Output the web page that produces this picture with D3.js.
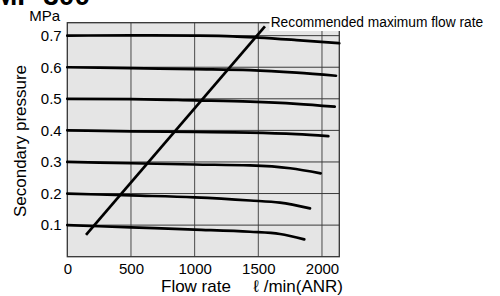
<!DOCTYPE html>
<html><head><meta charset="utf-8">
<script src="https://cdn.jsdelivr.net/npm/d3@7/dist/d3.min.js"></script>
<style>
html,body{margin:0;padding:0;background:#fff;}
svg{display:block;font-family:"Liberation Sans",Arial,Helvetica,sans-serif;}
</style></head>
<body>
<svg id="chart" width="500" height="296"></svg>
<script>
// ---- data ----
const title = "MP 300";
const yUnit = "MPa";
const xTitle = "Flow rate";
const xUnit = "ℓ /min(ANR)";
const yTitle = "Secondary pressure";
const recLabel = "Recommended maximum flow rate";
const xTicks = [0, 500, 1000, 1500, 2000];
const yTicks = [0.1, 0.2, 0.3, 0.4, 0.5, 0.6, 0.7];

const curve07 = [[0,0.700],[500,0.701],[1000,0.700],[1300,0.698],[1500,0.694],[1800,0.686],[2136,0.676]];
const curve06 = [[0,0.600],[500,0.597],[1000,0.594],[1435,0.591],[1800,0.583],[2110,0.573]];
const curve05 = [[0,0.500],[500,0.499],[1000,0.495],[1435,0.491],[1800,0.484],[2100,0.475]];
const curve04 = [[0,0.400],[500,0.397],[1000,0.395],[1435,0.393],[1800,0.388],[2050,0.382]];
const curve03 = [[0,0.300],[500,0.296],[1000,0.292],[1435,0.289],[1750,0.280],[1990,0.264]];
const curve02 = [[0,0.200],[500,0.194],[1000,0.188],[1435,0.178],[1670,0.171],[1906,0.153]];
const curve01 = [[0,0.100],[500,0.093],[1000,0.086],[1435,0.079],[1670,0.072],[1861,0.055]];
const recommended = [[147,0.069],[1552,0.729]];

// ---- layout ----
const L = 67.3, T = 22.7, R = 339.3, B = 256.7;
const svg = d3.select("#chart");
const x = d3.scaleLinear().domain([0, 2136]).range([L, R]);
const y = d3.scaleLinear().domain([0, 0.741]).range([B, T]);

// title (cut at top)
svg.append("text").attr("x", -6).attr("y", 5).attr("font-size", 28).attr("font-weight", "bold")
  .attr("fill", "#000").text(title);

// plot background
svg.append("rect").attr("x", L).attr("y", T).attr("width", R - L).attr("height", B - T)
  .attr("fill", "#e5e5e5");

// gridlines
svg.append("g").selectAll("line").data(xTicks.filter(d => d > 0)).join("line")
  .attr("x1", d => x(d)).attr("x2", d => x(d)).attr("y1", T).attr("y2", B)
  .attr("stroke", "#4a4a4a").attr("stroke-width", 1);
svg.append("g").selectAll("line").data(yTicks).join("line")
  .attr("x1", L).attr("x2", R).attr("y1", d => y(d)).attr("y2", d => y(d))
  .attr("stroke", "#3a3a3a").attr("stroke-width", 1);

// border
svg.append("rect").attr("x", L).attr("y", T).attr("width", R - L).attr("height", B - T)
  .attr("fill", "none").attr("stroke", "#333").attr("stroke-width", 1.3);

// curves
const line = d3.line().x(d => x(d[0])).y(d => y(d[1])).curve(d3.curveMonotoneX);
[curve07, curve06, curve05, curve04, curve03, curve02, curve01].forEach(c => {
  svg.append("path").datum(c).attr("d", line).attr("fill", "none")
    .attr("stroke", "#000").attr("stroke-width", 2.7).attr("stroke-linecap", "round");
});

// recommended max flow line
svg.append("path").datum(recommended).attr("d", d3.line().x(d => x(d[0])).y(d => y(d[1])))
  .attr("fill", "none").attr("stroke", "#000").attr("stroke-width", 2.7);

// label box
svg.append("rect").attr("x", 269.5).attr("y", 11).attr("width", 225).attr("height", 20).attr("fill", "#fff");
svg.append("text").attr("x", 270.7).attr("y", 27).attr("font-size", 15.5)
  .attr("textLength", 212.5).attr("lengthAdjust", "spacingAndGlyphs").text(recLabel);

// axes
const xAxis = svg.append("g").attr("transform", `translate(0,${B})`)
  .call(d3.axisBottom(x).tickValues(xTicks).tickSize(0).tickPadding(7).tickFormat(d3.format("d")));
xAxis.select(".domain").remove();
xAxis.selectAll("text").attr("font-size", 15).attr("fill", "#000")
  .attr("font-family", "Liberation Sans, Arial, sans-serif");

const yAxis = svg.append("g").attr("transform", `translate(${L},0)`)
  .call(d3.axisLeft(y).tickValues(yTicks).tickSize(0).tickPadding(5.6).tickFormat(d3.format(".1f")));
yAxis.select(".domain").remove();
yAxis.selectAll("text").attr("font-size", 15).attr("fill", "#000")
  .attr("font-family", "Liberation Sans, Arial, sans-serif");

// unit label
svg.append("text").attr("x", 60).attr("y", 21).attr("text-anchor", "end").attr("font-size", 15).text(yUnit);

// axis titles
svg.append("text").attr("x", 161).attr("y", 291.7).attr("font-size", 17).text(xTitle);
svg.append("text").attr("x", 343).attr("y", 291.7).attr("text-anchor", "end").attr("font-size", 17).text(xUnit);
svg.append("text").attr("transform", "translate(25.5,141) rotate(-90)").attr("text-anchor", "middle")
  .attr("font-size", 17).text(yTitle);
</script>
</body></html>
